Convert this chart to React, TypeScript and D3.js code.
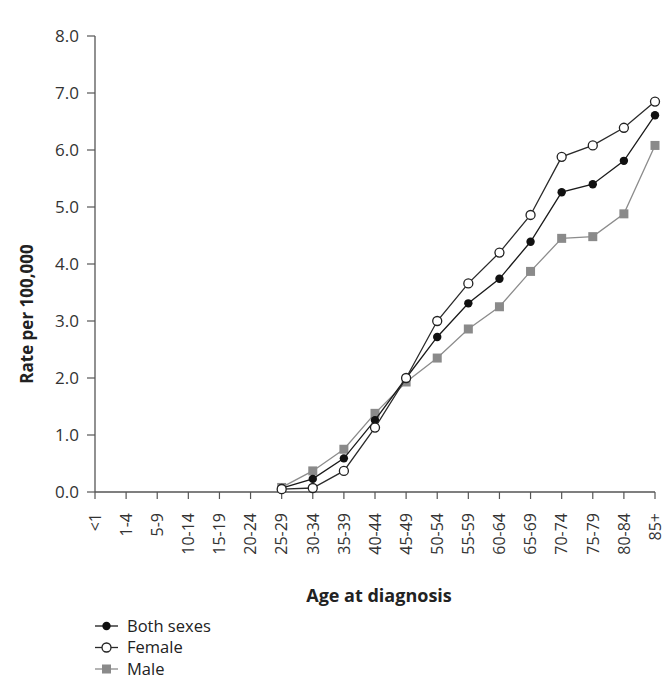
import React from "react";
import * as d3 from "d3";

const width = 668;
const height = 682;
const margin = { top: 36, right: 8, bottom: 190, left: 95 };

const ageGroups = [
  "<1", "1-4", "5-9", "10-14", "15-19", "20-24", "25-29", "30-34", "35-39",
  "40-44", "45-49", "50-54", "55-59", "60-64", "65-69", "70-74", "75-79",
  "80-84", "85+"
];

// rates per 100,000, starting at 25-29 (nothing plotted for younger groups)
const firstPlotted = 6;
const bothSexes = [0.07, 0.23, 0.59, 1.26, 2.0, 2.72, 3.31, 3.74, 4.39, 5.26, 5.4, 5.81, 6.61];
const female = [0.05, 0.07, 0.37, 1.13, 2.0, 3.0, 3.66, 4.2, 4.86, 5.88, 6.08, 6.39, 6.85];
const male = [0.08, 0.37, 0.75, 1.38, 1.93, 2.35, 2.86, 3.25, 3.87, 4.45, 4.48, 4.88, 6.08];

const yTicks = [0, 1, 2, 3, 4, 5, 6, 7, 8];

const font = "'Open Sans', sans-serif";

const x = d3
  .scalePoint<string>()
  .domain(ageGroups)
  .range([margin.left, width - margin.right - 5]);

const y = d3
  .scaleLinear()
  .domain([0, 8])
  .range([height - margin.bottom, margin.top]);

const line = d3
  .line<number>()
  .x((d, i) => x(ageGroups[i + firstPlotted]) as number)
  .y(d => y(d));

const series = [
  { name: "Both sexes", values: bothSexes, stroke: "#1a1a1a", marker: "dot" },
  { name: "Female", values: female, stroke: "#2a2a2a", marker: "open" },
  { name: "Male", values: male, stroke: "#8c8c8c", marker: "square" }
];

function Marker({ type, cx, cy }: { type: string; cx: number; cy: number }) {
  if (type === "dot") return <circle cx={cx} cy={cy} r={4.2} fill="#111" />;
  if (type === "open")
    return <circle cx={cx} cy={cy} r={4.5} fill="#fff" stroke="#222" strokeWidth={1.3} />;
  return <rect x={cx - 4.5} y={cy - 4.5} width={9} height={9} fill="#8a8a8a" />;
}

export default function App() {
  const x0 = margin.left;
  const y0 = y(0);
  // draw order: male behind, then both, then female
  const drawOrder = [series[2], series[0], series[1]];
  return (
    <svg width={width} height={height} style={{ position: "absolute", left: 0, top: 0, background: "#fff" }}>
      {/* y axis */}
      <line x1={x0} x2={x0} y1={y(8)} y2={y0} stroke="#555" strokeWidth={1.3} />
      {yTicks.map(t => (
        <g key={t}>
          <line x1={x0 - 8} x2={x0} y1={y(t)} y2={y(t)} stroke="#555" strokeWidth={1.2} />
          <text
            x={x0 - 16}
            y={y(t)}
            dy="0.36em"
            textAnchor="end"
            fontFamily={font}
            fontSize={17}
            fill="#333"
          >
            {t.toFixed(1)}
          </text>
        </g>
      ))}
      {/* x axis */}
      <line x1={x0} x2={x(ageGroups[ageGroups.length - 1])} y1={y0} y2={y0} stroke="#555" strokeWidth={1.3} />
      {ageGroups.map(g => (
        <g key={g} transform={`translate(${x(g)},${y0})`}>
          <line y1={0} y2={7} stroke="#555" strokeWidth={1.2} />
          <text
            transform="translate(0,21) rotate(-90)"
            dy="0.36em"
            textAnchor="end"
            fontFamily={font}
            fontSize={16}
            fill="#333"
          >
            {g}
          </text>
        </g>
      ))}
      {/* series */}
      {drawOrder.map(s => (
        <g key={s.name}>
          <path d={line(s.values) as string} fill="none" stroke={s.stroke} strokeWidth={1.3} />
          {s.values.map((v, i) => (
            <Marker key={i} type={s.marker} cx={x(ageGroups[i + firstPlotted]) as number} cy={y(v)} />
          ))}
        </g>
      ))}
      {/* axis titles */}
      <text
        x={379}
        y={602}
        textAnchor="middle"
        fontFamily={font}
        fontWeight="bold"
        fontSize={18}
        fill="#222"
      >
        Age at diagnosis
      </text>
      <text
        transform={`translate(33,${(y(0) + y(8)) / 2 + 50}) rotate(-90)`}
        textAnchor="middle"
        fontFamily={font}
        fontWeight="bold"
        fontSize={17}
        fill="#222"
      >
        Rate per 100,000
      </text>
      {/* legend */}
      {series.map((s, i) => {
        const ly = 626 + i * 21.5;
        return (
          <g key={s.name}>
            <line x1={95} x2={118} y1={ly} y2={ly} stroke={s.stroke} strokeWidth={1.3} />
            <Marker type={s.marker} cx={106.5} cy={ly} />
            <text x={127} y={ly} dy="0.36em" fontFamily={font} fontSize={16.5} fill="#222">
              {s.name}
            </text>
          </g>
        );
      })}
    </svg>
  );
}
